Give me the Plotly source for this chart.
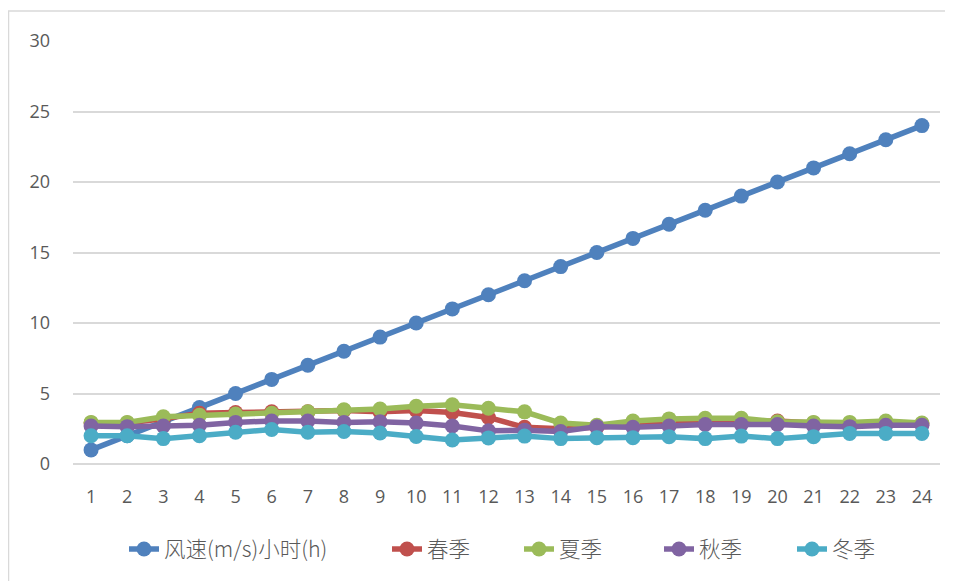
import plotly.graph_objects as go

hours = list(range(1, 25))
wind = [1, 2, 3, 4, 5, 6, 7, 8, 9, 10, 11, 12, 13, 14, 15, 16, 17, 18, 19, 20, 21, 22, 23, 24]
spring = [2.9, 2.9, 3.2, 3.6, 3.65, 3.7, 3.7, 3.8, 3.7, 3.8, 3.65, 3.3, 2.6, 2.5, 2.6, 2.8, 2.9, 3.0, 3.0, 3.05, 2.9, 2.85, 2.9, 2.85]
summer = [2.95, 2.95, 3.35, 3.45, 3.55, 3.6, 3.7, 3.85, 3.9, 4.1, 4.2, 3.95, 3.7, 2.9, 2.75, 3.05, 3.2, 3.25, 3.25, 3.0, 2.95, 2.95, 3.05, 2.9]
autumn = [2.7, 2.65, 2.7, 2.75, 2.95, 3.05, 3.05, 2.95, 3.0, 2.9, 2.7, 2.35, 2.4, 2.3, 2.65, 2.6, 2.7, 2.8, 2.8, 2.8, 2.7, 2.65, 2.75, 2.75]
winter = [2.0, 2.0, 1.8, 2.0, 2.25, 2.45, 2.25, 2.3, 2.2, 1.95, 1.7, 1.85, 1.98, 1.8, 1.87, 1.87, 1.94, 1.8, 1.98, 1.8, 1.94, 2.17, 2.17, 2.17]

series = [
    ("风速(m/s)小时(h)", wind, "#4F81BD"),
    ("春季", spring, "#C0504D"),
    ("夏季", summer, "#9BBB59"),
    ("秋季", autumn, "#8064A2"),
    ("冬季", winter, "#4BACC6"),
]
# page x where each legend entry box begins
legend_x = [124, 387, 519, 659, 792]

OFF = 8  # page body margin
W, H = 953 - OFF, 581 - OFF
L, R, T, B = 73 - OFF, 940 - OFF, 41 - OFF, 464 - OFF

def px(xp):
    return (xp - OFF - L) / (R - L)

def py(yp):
    return (B - (yp - OFF)) / (B - T)

fig = go.Figure()
layout_legends = {}
for i, (name, vals, color) in enumerate(series):
    lid = "legend" if i == 0 else f"legend{i + 1}"
    fig.add_trace(go.Scatter(
        x=[str(h) for h in hours], y=vals, name=name, mode="lines+markers",
        line=dict(color=color, width=5.5),
        marker=dict(color=color, size=15),
        legend=lid,
    ))
    layout_legends[lid] = dict(
        orientation="h", x=px(legend_x[i]), xanchor="left", y=py(549), yanchor="middle",
        font=dict(family="Noto Sans CJK SC", size=21.5, color="#595959", weight=300),
        bgcolor="rgba(0,0,0,0)", borderwidth=0,
    )

fig.update_layout(
    width=W, height=H,
    margin=dict(l=L, r=W - R, t=T, b=H - B, autoexpand=False),
    paper_bgcolor="white", plot_bgcolor="white",
    font=dict(family="Open Sans, Noto Sans CJK SC", size=18, color="#595959"),
    showlegend=True,
    xaxis=dict(type="category", range=[-0.5, 23.5], showgrid=False, zeroline=False,
               showline=False, ticks="", ticklabelstandoff=20,
               tickfont=dict(family="Open Sans", size=18, color="#595959")),
    yaxis=dict(range=[0, 30], dtick=5, showgrid=True, gridcolor="#D9D9D9", gridwidth=1.5,
               zeroline=True, zerolinecolor="#D9D9D9", zerolinewidth=1.5, showline=False,
               ticks="", ticklabelstandoff=22,
               tickfont=dict(family="Open Sans", size=18, color="#595959")),
    **layout_legends,
)

fig.add_shape(type="rect", xref="paper", yref="paper",
              x0=px(8.5), x1=px(970), y0=py(620), y1=py(11),
              line=dict(color="#D9D9D9", width=1.5), fillcolor="rgba(0,0,0,0)", layer="below")

fig.write_html("out.html")
